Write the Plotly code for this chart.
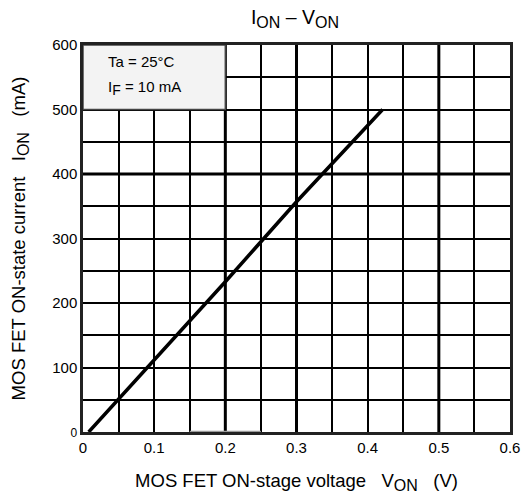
import plotly.graph_objects as go

# Data
v_on = [0.008, 0.05, 0.1, 0.2, 0.3, 0.421]
i_on = [0, 51, 110, 233, 357, 500]

x_ticks = [0, 0.1, 0.2, 0.3, 0.4, 0.5, 0.6]
x_tick_labels = ["0", "0.1", "0.2", "0.3", "0.4", "0.5", "0.6"]
y_ticks = [0, 100, 200, 300, 400, 500, 600]
y_tick_labels = ["<span style='font-size:12px'>0</span>", "100", "200", "300", "400", "500", "600"]

thick_x = [0.2, 0.3, 0.5]
thick_y = [400]

FONT = "Liberation Sans, Arial, sans-serif"
NB = "\u00a0"


def sub(t, size):
    return f"<sub><span style='font-size:{size}px'>{t}</span></sub>"


fig = go.Figure()
fig.add_trace(go.Scatter(x=v_on, y=i_on, mode="lines",
                         line=dict(color="black", width=3.5), showlegend=False,
                         hoverinfo="skip"))

shapes = []
for xv in thick_x:
    shapes.append(dict(type="line", xref="x", yref="y", x0=xv, x1=xv, y0=0, y1=600,
                       line=dict(color="black", width=3), layer="between"))
for yv in thick_y:
    shapes.append(dict(type="line", xref="x", yref="y", x0=0, x1=0.6, y0=yv, y1=yv,
                       line=dict(color="black", width=3), layer="between"))
# condition box
shapes.append(dict(type="rect", xref="x", yref="y", x0=0, x1=0.2, y0=500, y1=600,
                   fillcolor="#f3f3f3", line=dict(color="#444", width=1.5), layer="between"))
# faint segment on the bottom axis
shapes.append(dict(type="line", xref="x", yref="y", x0=0.15, x1=0.25, y0=0, y1=0,
                   line=dict(color="#9a9a9a", width=2.5), layer="above"))
fig.update_layout(shapes=shapes)

fig.add_annotation(x=0.033, y=575, xref="x", yref="y", xanchor="left", yanchor="middle",
                   text="Ta = 25°C", showarrow=False, font=dict(size=15, color="black", family=FONT))
fig.add_annotation(x=0.033, y=533, xref="x", yref="y", xanchor="left", yanchor="middle",
                   text="I" + sub("F", 14) + " = 10 mA", showarrow=False,
                   font=dict(size=15, color="black", family=FONT))

fig.update_layout(
    width=521, height=495,
    margin=dict(l=83, r=11, t=45, b=63, autoexpand=False),
    paper_bgcolor="white", plot_bgcolor="white",
    font=dict(family=FONT, color="black", size=15),
    title=dict(text="I" + sub("ON", 16) + " – V" + sub("ON", 16), x=295 / 521, xanchor="center",
               y=1 - 17 / 495, yanchor="middle", font=dict(size=19.5, family=FONT, color="black")),
)
fig.update_xaxes(range=[0, 0.6], tickvals=x_ticks, ticktext=x_tick_labels,
                 showgrid=True, gridcolor="black", gridwidth=2,
                 minor=dict(dtick=0.05, showgrid=True, gridcolor="black", gridwidth=2),
                 showline=True, linecolor="#222", linewidth=2.5, mirror=True,
                 ticks="", zeroline=False, tickfont=dict(size=15), automargin=False,
                 title=dict(text="MOS FET ON-stage voltage" + NB * 3 + "V" + sub("ON", 16) + NB * 3 + "(V)",
                            font=dict(size=18.5), standoff=20))
fig.update_yaxes(range=[0, 600], tickvals=y_ticks, ticktext=y_tick_labels,
                 showgrid=True, gridcolor="black", gridwidth=2,
                 minor=dict(dtick=50, showgrid=True, gridcolor="black", gridwidth=2),
                 showline=True, linecolor="#222", linewidth=2.5, mirror=True,
                 ticks="", zeroline=False, tickfont=dict(size=15), automargin=False,
                 title=dict(text="MOS FET ON-state current" + NB * 3 + "I" + sub("ON", 16) + NB * 3 + "(mA)",
                            font=dict(size=18.5), standoff=22))

fig.write_html("out.html")
